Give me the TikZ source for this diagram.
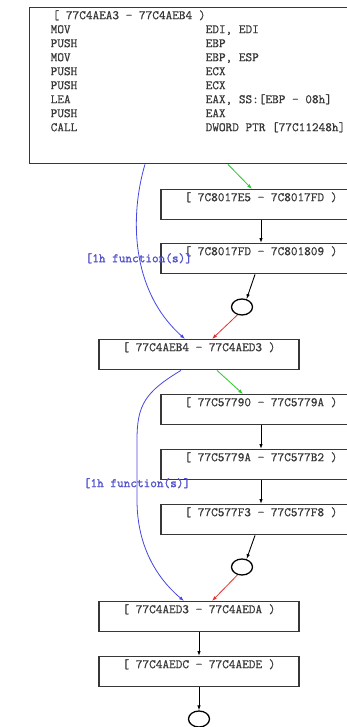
\documentclass[tikz,border=0pt]{standalone}
\usepackage{fontspec}
\newfontfamily\codefont[FakeBold=0.5]{Latin Modern Mono}
\newfontfamily\fnfont[FakeBold=1.6]{Latin Modern Mono}
\usepackage{xcolor}
\usetikzlibrary{arrows.meta}
\usetikzlibrary{shapes.geometric}
\definecolor{boxgray}{RGB}{55,55,55}
\definecolor{textgray}{RGB}{55,55,55}
\definecolor{callblue}{RGB}{70,70,225}
\definecolor{labelblue}{RGB}{85,85,205}
\definecolor{truegreen}{RGB}{40,200,40}
\definecolor{falsered}{RGB}{225,50,50}
\tikzset{
  addrbox/.style={draw=boxgray, line width=1.4pt, fill=white, rectangle, anchor=north,
    minimum width=200pt, text height=9pt, text depth=16pt, inner ysep=2.5pt, inner xsep=0pt,
    font=\codefont\fontsize{12.9}{14}\selectfont, text=textgray},
  endnode/.style={draw=black, line width=1.3pt, ellipse, minimum width=21pt, minimum height=16pt, inner sep=0pt},
  flow/.style={draw=black, line width=0.9pt, -{Latex[length=5pt,width=3.5pt]}},
  truebr/.style={draw=truegreen, line width=0.8pt, -{Latex[length=5pt,width=3.5pt]}},
  falsebr/.style={draw=falsered, line width=0.8pt, -{Latex[length=5pt,width=3.5pt]}},
  callbr/.style={draw=callblue, line width=0.8pt, -{Latex[length=5pt,width=3.5pt]}},
  fnlabel/.style={text=labelblue, font=\fnfont\fontsize{12.9}{14}\selectfont, inner sep=0pt},
}
\begin{document}
\begin{tikzpicture}[x=1pt, y=-1pt]
\useasboundingbox (0,0) rectangle (347,727);
% first block
\node (asm) [draw=boxgray, line width=1.4pt, fill=white, anchor=north west, inner xsep=21pt, inner ysep=0pt,
  text height=11.5pt, text depth=144.5pt, text=textgray, font=\codefont\fontsize{12.9}{14}\selectfont] at (29,7)
  {\begin{tabular}[t]{@{}p{155pt}@{}l@{}}
   \multicolumn{2}{@{}l@{}}{\hspace{2pt}[ 77C4AEA3 - 77C4AEB4 )}\\
   MOV & EDI, EDI\\
   PUSH & EBP\\
   MOV & EBP, ESP\\
   PUSH & ECX\\
   PUSH & ECX\\
   LEA & EAX, SS:[EBP - 08h]\\
   PUSH & EAX\\
   CALL & DWORD PTR [77C11248h]
   \end{tabular}};
\node (rA) [addrbox] at (261,189) {[ 7C8017E5 - 7C8017FD )};
\node (rB) [addrbox] at (261,243) {[ 7C8017FD - 7C801809 )};
\node (c1) [endnode] at (242,307) {};
\node (rC) [addrbox] at (199,339) {[ 77C4AEB4 - 77C4AED3 )};
\node (rD) [addrbox] at (261,394) {[ 77C57790 - 77C5779A )};
\node (rE) [addrbox] at (261,449) {[ 77C5779A - 77C577B2 )};
\node (rF) [addrbox] at (261,504) {[ 77C577F3 - 77C577F8 )};
\node (c2) [endnode] at (242,567) {};
\node (rG) [addrbox] at (199,601) {[ 77C4AED3 - 77C4AEDA )};
\node (rH) [addrbox] at (199,656) {[ 77C4AEDC - 77C4AEDE )};
\node (c3) [endnode] at (199,719) {};
% edges
\draw[truebr] ([xshift=30]asm.south) -- ([xshift=-9]rA.north);
\draw[callbr] ([xshift=-53]asm.south) .. controls (130,215) and (130,290) .. ([xshift=-14]rC.north)
  node[fnlabel, pos=0.5, yshift=-6pt] (fn1) {[1h function(s)]};
\draw[flow] (rA) -- (rB);
\draw[flow] ([xshift=-6]rB.south) -- (c1.60);
\draw[falsebr] (c1.240) -- ([xshift=13]rC.north);
\draw[truebr] ([xshift=18]rC.south) -- ([xshift=-18]rD.north);
\draw[callbr] ([xshift=-18]rC.south) .. controls (145,392) and (137,405) .. (137,440)
  -- node[fnlabel, pos=0.72] (fn2) {[1h function(s)]} (137,500)
  .. controls (137,555) and (165,585) .. ([xshift=-15]rG.north);
\draw[flow] (rD) -- (rE);
\draw[flow] (rE) -- (rF);
\draw[flow] ([xshift=-6]rF.south) -- (c2.60);
\draw[falsebr] (c2.240) -- ([xshift=13]rG.north);
\draw[flow] (rG) -- (rH);
\draw[flow] (rH) -- (c3);
\end{tikzpicture}
\end{document}
